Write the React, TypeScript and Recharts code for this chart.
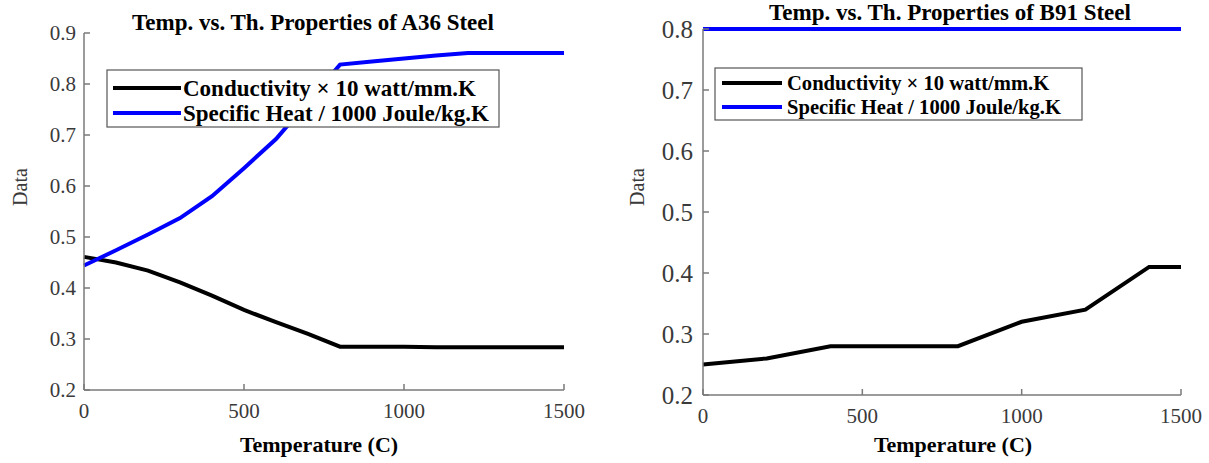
import { LineChart, Line, XAxis, YAxis } from 'recharts'

// A36 steel
const a36Temps = [0, 100, 200, 300, 400, 500, 600, 700, 800, 900, 1000, 1100, 1200, 1300, 1400, 1500]
const a36Conductivity = [0.461, 0.45, 0.434, 0.411, 0.385, 0.357, 0.333, 0.31, 0.285, 0.285, 0.285, 0.284, 0.284, 0.284, 0.284, 0.284]
const a36SpecificHeat = [0.444, 0.474, 0.505, 0.537, 0.58, 0.635, 0.692, 0.765, 0.838, 0.844, 0.85, 0.856, 0.861, 0.861, 0.861, 0.861]

// B91 steel
const b91Temps = [0, 200, 400, 600, 800, 1000, 1200, 1400, 1500]
const b91Conductivity = [0.25, 0.26, 0.28, 0.28, 0.28, 0.32, 0.34, 0.41, 0.41]
const b91SpecificHeat = [0.8, 0.8, 0.8, 0.8, 0.8, 0.8, 0.8, 0.8, 0.8]

const xTicks = [0, 500, 1000, 1500]
const a36YTicks = [0.2, 0.3, 0.4, 0.5, 0.6, 0.7, 0.8, 0.9]
const b91YTicks = [0.2, 0.3, 0.4, 0.5, 0.6, 0.7, 0.8]

const legendLabels = ['Conductivity \u00d7 10 watt/mm.K', 'Specific Heat / 1000 Joule/kg.K']

const SERIF = '"Liberation Serif", "Times New Roman", serif'
const AXIS = '#7a7a7a'
const TICK_TEXT = '#3a3a3a'
const BLUE = '#0000ff'

function buildRows(temps: number[], cond: number[], heat: number[]) {
  return temps.map((t, i) => ({ temp: t, conductivity: cond[i], specificHeat: heat[i] }))
}

interface PanelProps {
  left: number
  title: string
  titleX: number
  titleY: number
  temps: number[]
  cond: number[]
  heat: number[]
  yTicks: number[]
  margin: { top: number; right: number; bottom: number; left: number }
  yTickSize: number
  yTickMargin: number
  xLabelX: number
  dataY: number
  legend: { x: number; y: number; w: number; h: number; lineX1: number; lineX2: number; textX: number; row1: number; row2: number; font: number }
}

function Panel(p: PanelProps) {
  const rows = buildRows(p.temps, p.cond, p.heat)
  const lg = p.legend
  return (
    <div style={{ position: 'absolute', left: p.left, top: 0, width: 600, height: 463, fontFamily: SERIF }}>
      <LineChart width={600} height={463} data={rows} margin={p.margin} style={{ fontFamily: SERIF }}>
        <XAxis
          type="number"
          dataKey="temp"
          domain={[0, 1500]}
          ticks={xTicks}
          height={40}
          axisLine={{ stroke: AXIS, strokeWidth: 1.5 }}
          tickLine={{ stroke: AXIS, strokeWidth: 1.5 }}
          tickSize={-6}
          tickMargin={19}
          tick={{ fill: TICK_TEXT, fontSize: 21, fontFamily: SERIF, style: { fontFamily: SERIF } }}
        />
        <YAxis
          type="number"
          domain={[p.yTicks[0], p.yTicks[p.yTicks.length - 1]]}
          ticks={p.yTicks}
          width={60}
          axisLine={{ stroke: AXIS, strokeWidth: 1.5 }}
          tickLine={{ stroke: AXIS, strokeWidth: 1.5 }}
          tickSize={-6}
          tickMargin={p.yTickMargin}
          tickFormatter={(v: number) => v.toFixed(1)}
          tick={{ fill: TICK_TEXT, fontSize: p.yTickSize, fontFamily: SERIF, style: { fontFamily: SERIF } }}
        />
        <Line
          type="linear"
          dataKey="conductivity"
          stroke="#000000"
          strokeWidth={4}
          dot={false}
          isAnimationActive={false}
        />
        <Line
          type="linear"
          dataKey="specificHeat"
          stroke={BLUE}
          strokeWidth={4}
          dot={false}
          isAnimationActive={false}
        />
      </LineChart>
      <svg
        width={600}
        height={463}
        style={{ position: 'absolute', left: 0, top: 0, pointerEvents: 'none' }}
      >
        <text x={p.titleX} y={p.titleY} textAnchor="middle" fontFamily={SERIF} fontWeight="bold" fontSize={23} fill="#000">
          {p.title}
        </text>
        <text x={p.xLabelX} y={452} textAnchor="middle" fontFamily={SERIF} fontWeight="bold" fontSize={22} fill="#000">
          Temperature (C)
        </text>
        <text
          x={0}
          y={0}
          textAnchor="middle"
          fontFamily={SERIF}
          fontSize={20}
          fill={TICK_TEXT}
          transform={`translate(${p.dataY}, 187) rotate(-90)`}
        >
          Data
        </text>
        <rect x={lg.x} y={lg.y} width={lg.w} height={lg.h} fill="#fff" stroke="#555" strokeWidth={1.2} />
        <line x1={lg.lineX1} x2={lg.lineX2} y1={lg.row1} y2={lg.row1} stroke="#000" strokeWidth={4} />
        <line x1={lg.lineX1} x2={lg.lineX2} y1={lg.row2} y2={lg.row2} stroke={BLUE} strokeWidth={4} />
        <text x={lg.textX} y={lg.row1 + lg.font * 0.33} fontFamily={SERIF} fontWeight="bold" fontSize={lg.font} fill="#000">
          {legendLabels[0]}
        </text>
        <text x={lg.textX} y={lg.row2 + lg.font * 0.33} fontFamily={SERIF} fontWeight="bold" fontSize={lg.font} fill="#000">
          {legendLabels[1]}
        </text>
      </svg>
    </div>
  )
}

export default function App() {
  return (
    <div style={{ position: 'absolute', left: 0, top: 0, width: 1209, height: 463, background: '#fff' }}>
      <Panel
        left={0}
        title="Temp. vs. Th. Properties of A36 Steel"
        titleX={313}
        titleY={30}
        temps={a36Temps}
        cond={a36Conductivity}
        heat={a36SpecificHeat}
        yTicks={a36YTicks}
        margin={{ top: 33, right: 36, bottom: 33, left: 24 }}
        yTickSize={21}
        yTickMargin={14}
        xLabelX={319}
        dataY={27}
        legend={{ x: 107, y: 70, w: 392, h: 57, lineX1: 113, lineX2: 181, textX: 183, row1: 88, row2: 113, font: 23 }}
      />
      <Panel
        left={609}
        title="Temp. vs. Th. Properties of B91 Steel"
        titleX={341}
        titleY={20}
        temps={b91Temps}
        cond={b91Conductivity}
        heat={b91SpecificHeat}
        yTicks={b91YTicks}
        margin={{ top: 29, right: 28, bottom: 28, left: 34 }}
        yTickSize={25}
        yTickMargin={16}
        xLabelX={344}
        dataY={35}
        legend={{ x: 106, y: 68, w: 367, h: 52, lineX1: 113, lineX2: 173, textX: 178, row1: 83, row2: 107, font: 20.6 }}
      />
    </div>
  )
}
